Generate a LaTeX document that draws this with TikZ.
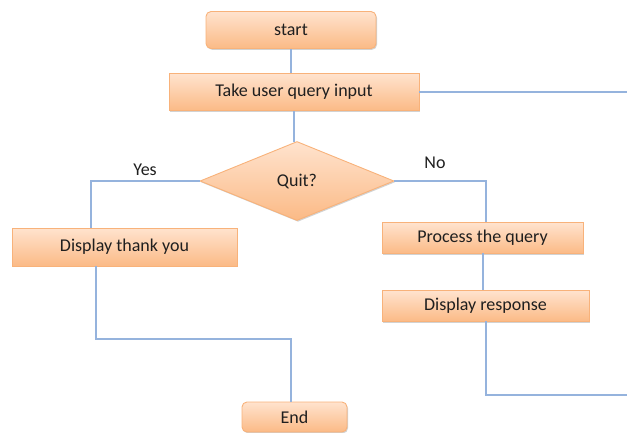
\documentclass[tikz,border=0pt]{standalone}
\usepackage{fontspec}
\setmainfont{Carlito}
\usetikzlibrary{shapes.geometric,shadows}
\definecolor{boxtop}{HTML}{FFE3CE}
\definecolor{boxbot}{HTML}{FBBA86}
\definecolor{boxline}{HTML}{F8B27A}
\definecolor{conn}{HTML}{95B3DD}
\tikzset{
  box/.style={draw=boxline, line width=0.9pt, top color=boxtop, bottom color=boxbot,
    drop shadow={shadow xshift=1pt, shadow yshift=-1.3pt, fill=black!35, opacity=0.5},
    font=\fontsize{18}{21}\selectfont, text=black!88, inner sep=0pt},
  rbox/.style={box, rounded corners=5pt},
  dia/.style={box, diamond, aspect=2.45},
  conn/.style={draw=conn, line width=1.1pt},
  lbl/.style={font=\fontsize{18}{21}\selectfont, text=black!88}
}
\begin{document}
\begin{tikzpicture}[x=1pt,y=-1pt]
\useasboundingbox (0,0) rectangle (627,432);
\node[rbox, minimum width=170pt, minimum height=37pt] (start) at (291,30) {start};
\node[box, minimum width=250pt, minimum height=37pt] (take) at (294,92) {Take user query input};
\node[dia, minimum width=194pt, minimum height=79pt] (quit) at (297,181) {Quit?};
\node[box, minimum width=225pt, minimum height=38pt] (thank) at (124.5,247) {Display thank you};
\node[box, minimum width=201pt, minimum height=31pt] (proc) at (482.5,238) {Process the query};
\node[box, minimum width=207pt, minimum height=31pt] (resp) at (485.5,306) {Display response};
\node[rbox, minimum width=105pt, minimum height=30pt] (end) at (294.5,417) {End};
\node[lbl] (yes) at (145,170) {Yes};
\node[lbl] (no) at (435,163) {No};
\coordinate (tr) at (627,92);
\coordinate (rb) at (627,395);
\coordinate (qtop) at (294,142);
\draw[conn] (start.south) -- (start.south |- take.north);
\draw[conn] (take.east) -- (tr);
\draw[conn] (take.south) -- (qtop);
\draw[conn] (quit.west) -- (91,181) -- (91,228);
\draw[conn] (quit.east) -- (486,181) -- (486,222);
\draw[conn] (483,253) -- (483,290);
\draw[conn] (486,321) -- (486,395) -- (rb);
\draw[conn] (96,266) -- (96,339) -- (291,339) -- (291,402);
\end{tikzpicture}
\end{document}
